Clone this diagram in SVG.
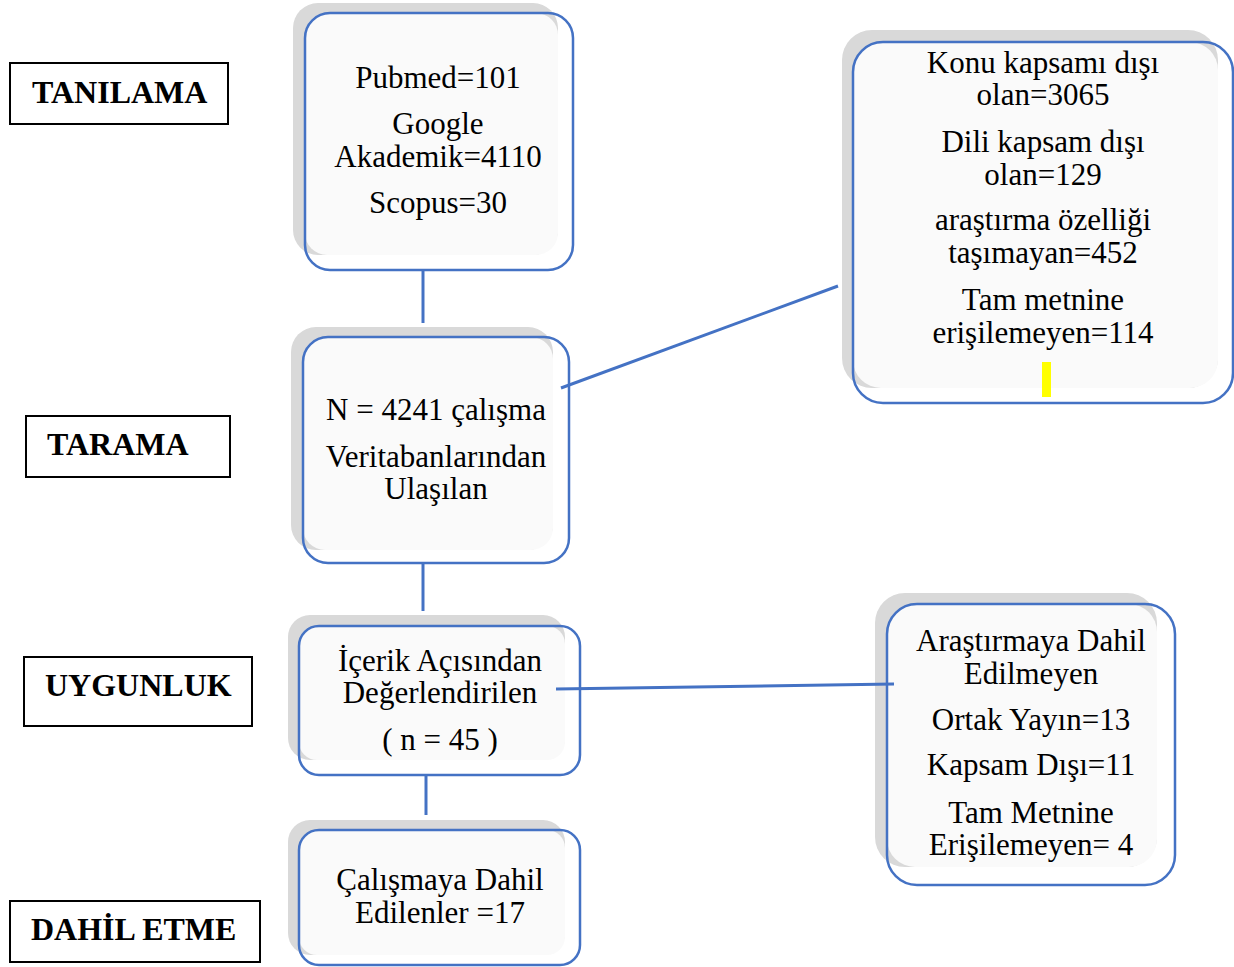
<svg xmlns="http://www.w3.org/2000/svg" width="1234" height="967" viewBox="0 0 1234 967">
<style>
.shadow{fill:#d9d9d9}
.fill{fill:#fafafa}
.frame{fill:none;stroke:#4472c4;stroke-width:2.5}
.t{font-family:"Liberation Serif","Times New Roman",serif;font-size:31px;fill:#000;text-anchor:middle}
.lab{font-family:"Liberation Serif","Times New Roman",serif;font-size:32px;font-weight:bold;fill:#000}
.lbox{fill:#fff;stroke:#000;stroke-width:2}
.conn{stroke:#4472c4;stroke-width:3;fill:none}
</style>
<rect width="1234" height="967" fill="#fff"/>

<g id="label-tanilama">
<rect class="lbox" x="10" y="63" width="218" height="61"/>
<text class="lab" x="32" y="103">TANILAMA</text>
</g>
<g id="label-tarama">
<rect class="lbox" x="26" y="416" width="204" height="61"/>
<text class="lab" x="47" y="455">TARAMA</text>
</g>
<g id="label-uygunluk">
<rect class="lbox" x="24" y="657" width="228" height="69"/>
<text class="lab" x="45" y="696">UYGUNLUK</text>
</g>
<g id="label-dahil">
<rect class="lbox" x="10" y="901" width="250" height="61"/>
<text class="lab" x="31" y="940">DAHİL ETME</text>
</g>

<g id="node-databases">
<rect class="shadow" x="293" y="3" width="265" height="252" rx="25"/>
<rect class="fill" x="305" y="13" width="253" height="242" rx="22"/>
<rect class="frame" x="305" y="13" width="268" height="257" rx="25"/>
<text class="t" x="438" y="88">Pubmed=101</text>
<text class="t" x="438" y="134">Google</text>
<text class="t" x="438" y="167">Akademik=4110</text>
<text class="t" x="438" y="213">Scopus=30</text>
</g>

<g id="node-total">
<rect class="shadow" x="291" y="327" width="262" height="223" rx="25"/>
<rect class="fill" x="303" y="337" width="250" height="213" rx="22"/>
<rect class="frame" x="303" y="337" width="266" height="226" rx="25"/>
<text class="t" x="436" y="420">N = 4241 çalışma</text>
<text class="t" x="436" y="467">Veritabanlarından</text>
<text class="t" x="436" y="499">Ulaşılan</text>
</g>

<g id="node-excluded1">
<rect class="shadow" x="842" y="30" width="376" height="358" rx="30"/>
<rect class="fill" x="853" y="42" width="365" height="346" rx="28"/>
<rect class="frame" x="853" y="42" width="380" height="361" rx="30"/>
<text class="t" x="1043" y="73">Konu kapsamı dışı</text>
<text class="t" x="1043" y="105">olan=3065</text>
<text class="t" x="1043" y="152">Dili kapsam dışı</text>
<text class="t" x="1043" y="185">olan=129</text>
<text class="t" x="1043" y="230">araştırma özelliği</text>
<text class="t" x="1043" y="263">taşımayan=452</text>
<text class="t" x="1043" y="310">Tam metnine</text>
<text class="t" x="1043" y="343">erişilemeyen=114</text>
<rect x="1042" y="362" width="9" height="35" fill="#ffff00"/>
</g>

<g id="node-eligibility">
<rect class="shadow" x="288" y="615" width="277" height="145" rx="22"/>
<rect class="fill" x="299" y="626" width="266" height="134" rx="18"/>
<rect class="frame" x="299" y="626" width="281" height="149" rx="20"/>
<text class="t" x="440" y="671">İçerik Açısından</text>
<text class="t" x="440" y="703">Değerlendirilen</text>
<text class="t" x="440" y="750">( n = 45 )</text>
</g>

<g id="node-excluded2">
<rect class="shadow" x="875" y="593" width="282" height="274" rx="30"/>
<rect class="fill" x="887" y="604" width="270" height="263" rx="28"/>
<rect class="frame" x="887" y="604" width="288" height="281" rx="30"/>
<text class="t" x="1031" y="651">Araştırmaya Dahil</text>
<text class="t" x="1031" y="684">Edilmeyen</text>
<text class="t" x="1031" y="730">Ortak Yayın=13</text>
<text class="t" x="1031" y="775">Kapsam Dışı=11</text>
<text class="t" x="1031" y="823">Tam Metnine</text>
<text class="t" x="1031" y="855">Erişilemeyen= 4</text>
</g>

<g id="node-included">
<rect class="shadow" x="288" y="820" width="277" height="135" rx="22"/>
<rect class="fill" x="299" y="830" width="266" height="125" rx="18"/>
<rect class="frame" x="299" y="830" width="281" height="135" rx="20"/>
<text class="t" x="440" y="890">Çalışmaya Dahil</text>
<text class="t" x="440" y="923">Edilenler =17</text>
</g>

<g id="connectors">
<line class="conn" x1="423" y1="270" x2="423" y2="323"/>
<line class="conn" x1="423" y1="563" x2="423" y2="611"/>
<line class="conn" x1="426" y1="775" x2="426" y2="815"/>
<line class="conn" x1="561" y1="388" x2="838" y2="286"/>
<line class="conn" x1="556" y1="689" x2="894" y2="684"/>
</g>
</svg>
